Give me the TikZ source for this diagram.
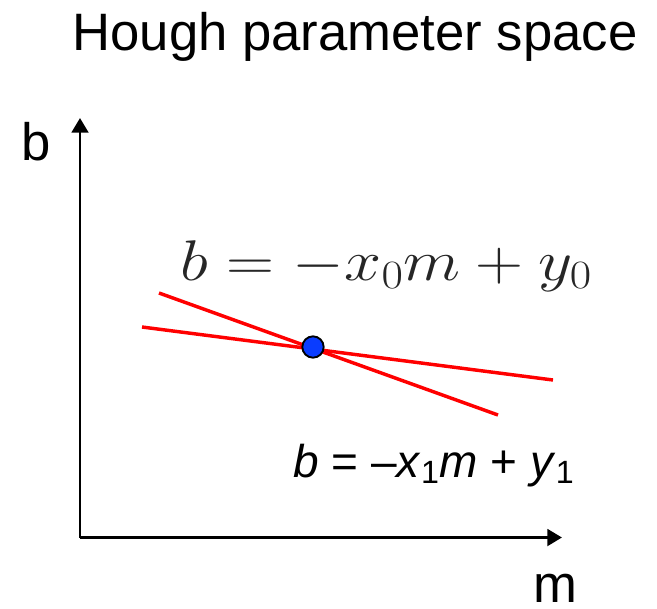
\documentclass[tikz,border=0pt]{standalone}
\usepackage{fix-cm}
\usepackage{fontspec}
\setmainfont{Liberation Sans}
\usepackage{tikz}
\usetikzlibrary{arrows.meta}

\definecolor{linered}{RGB}{255,0,0}
\definecolor{dotblue}{RGB}{10,60,255}

\begin{document}
\begin{tikzpicture}[x=0.75pt,y=-0.75pt,
    axis/.style={line width=2.2pt,-{Triangle[length=11pt,width=12.5pt]}},
    houghline/.style={draw=linered,line width=2.6pt},
    bigtext/.style={inner sep=0pt,font=\fontsize{39.5}{46}\selectfont}
]
\useasboundingbox (0,0) rectangle (657,608);

% Title
\node[bigtext,anchor=base] (title) at (355,50) {Hough parameter space};

% Axes
\coordinate (origin) at (80,537.5);
\coordinate (btip) at (80,118);
\coordinate (mtip) at (562,537.5);
\draw[axis] (origin) -- (btip);
\draw[axis] (origin) -- (mtip);
\node[bigtext,anchor=base west] (blabel) at (21,160) {b};
\node[bigtext,anchor=base west] (mlabel) at (533,602) {m};

% Lines
\coordinate (l0a) at (159,293);
\coordinate (l0b) at (498,415);
\coordinate (l1a) at (142,327);
\coordinate (l1b) at (553,380);
\draw[houghline] (l0a) -- (l0b);
\draw[houghline] (l1a) -- (l1b);

% Equations
\node[anchor=base west,inner sep=0pt,xscale=1.16,font=\fontsize{43}{50}\selectfont,text=black!85] (eqzero) at (180,280)
  {$b = -x_0 m + y_0$};
\node[bigtext,anchor=base west,font=\fontsize{34.5}{40}\selectfont] (eqone) at (293,477)
  {\textit{b} = –\textit{x}\textsubscript{1}\textit{m} + \textit{y}\textsubscript{1}};

% Intersection
\node[circle,draw=black,line width=1.4pt,fill=dotblue,minimum size=16pt,inner sep=0pt] (cross) at (313,347) {};

\end{tikzpicture}
\end{document}
